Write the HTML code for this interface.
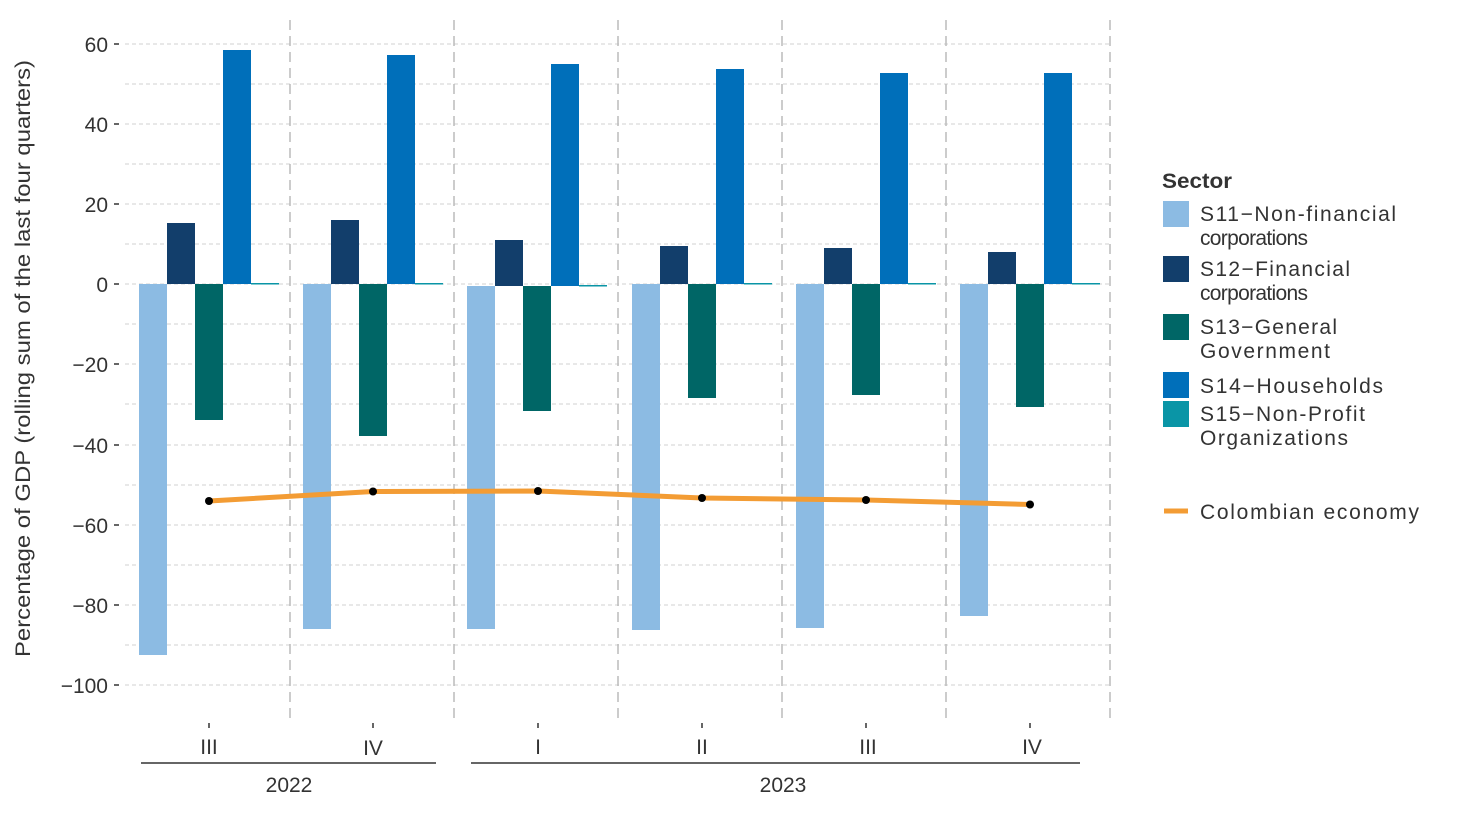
<!DOCTYPE html>
<html><head><style>body{margin:0;background:#fff}svg{display:block}text{font-family:"Liberation Sans",sans-serif;fill:#333}</style></head><body>
<svg width="1480" height="820" xmlns="http://www.w3.org/2000/svg">
<g stroke="#d0d0d0" stroke-width="1" stroke-dasharray="4,3">
<line x1="125" x2="1110" y1="44" y2="44"/><line x1="125" x2="1110" y1="84" y2="84"/><line x1="125" x2="1110" y1="124" y2="124"/><line x1="125" x2="1110" y1="164" y2="164"/><line x1="125" x2="1110" y1="204" y2="204"/><line x1="125" x2="1110" y1="244" y2="244"/><line x1="125" x2="1110" y1="284" y2="284"/><line x1="125" x2="1110" y1="324" y2="324"/><line x1="125" x2="1110" y1="364" y2="364"/><line x1="125" x2="1110" y1="404" y2="404"/><line x1="125" x2="1110" y1="445" y2="445"/><line x1="125" x2="1110" y1="485" y2="485"/><line x1="125" x2="1110" y1="525" y2="525"/><line x1="125" x2="1110" y1="565" y2="565"/><line x1="125" x2="1110" y1="605" y2="605"/><line x1="125" x2="1110" y1="645" y2="645"/><line x1="125" x2="1110" y1="685" y2="685"/>
</g>
<g stroke="#bbb" stroke-width="1.5" stroke-dasharray="10,6">
<line x1="290" x2="290" y1="20" y2="722"/><line x1="454" x2="454" y1="20" y2="722"/><line x1="618" x2="618" y1="20" y2="722"/><line x1="782" x2="782" y1="20" y2="722"/><line x1="946" x2="946" y1="20" y2="722"/><line x1="1110" x2="1110" y1="20" y2="722"/>
</g>
<g>
<rect x="139" y="284" width="28" height="371" fill="#8cbbe3"/><rect x="167" y="223" width="28" height="61" fill="#123e6b"/><rect x="195" y="284" width="28" height="136" fill="#006666"/><rect x="223" y="50" width="28" height="234" fill="#006fba"/><rect x="251" y="283" width="28" height="1.5" fill="#0a95a6"/>
<rect x="303" y="284" width="28" height="345" fill="#8cbbe3"/><rect x="331" y="220" width="28" height="64" fill="#123e6b"/><rect x="359" y="284" width="28" height="152" fill="#006666"/><rect x="387" y="55" width="28" height="229" fill="#006fba"/><rect x="415" y="283" width="28" height="1.5" fill="#0a95a6"/>
<rect x="467" y="286" width="28" height="343" fill="#8cbbe3"/><rect x="495" y="240" width="28" height="46" fill="#123e6b"/><rect x="523" y="286" width="28" height="125" fill="#006666"/><rect x="551" y="64" width="28" height="222" fill="#006fba"/><rect x="579" y="285" width="28" height="1.5" fill="#0a95a6"/>
<rect x="632" y="284" width="28" height="346" fill="#8cbbe3"/><rect x="660" y="246" width="28" height="38" fill="#123e6b"/><rect x="688" y="284" width="28" height="114" fill="#006666"/><rect x="716" y="69" width="28" height="215" fill="#006fba"/><rect x="744" y="283" width="28" height="1.5" fill="#0a95a6"/>
<rect x="796" y="284" width="28" height="344" fill="#8cbbe3"/><rect x="824" y="248" width="28" height="36" fill="#123e6b"/><rect x="852" y="284" width="28" height="111" fill="#006666"/><rect x="880" y="73" width="28" height="211" fill="#006fba"/><rect x="908" y="283" width="28" height="1.5" fill="#0a95a6"/>
<rect x="960" y="284" width="28" height="332" fill="#8cbbe3"/><rect x="988" y="252" width="28" height="32" fill="#123e6b"/><rect x="1016" y="284" width="28" height="123" fill="#006666"/><rect x="1044" y="73" width="28" height="211" fill="#006fba"/><rect x="1072" y="283" width="28" height="1.5" fill="#0a95a6"/>
</g>
<polyline points="209,501 373,491.5 538,491 702,498 866,500 1030,504.5" fill="none" stroke="#f39c34" stroke-width="5"/>
<g fill="#000"><circle cx="209" cy="501" r="4"/><circle cx="373" cy="491.5" r="4"/><circle cx="538" cy="491" r="4"/><circle cx="702" cy="498" r="4"/><circle cx="866" cy="500" r="4"/><circle cx="1030" cy="504.5" r="4"/></g>
<g stroke="#333" stroke-width="1.5">
<line x1="114" x2="119" y1="44" y2="44"/><line x1="114" x2="119" y1="124" y2="124"/><line x1="114" x2="119" y1="204" y2="204"/><line x1="114" x2="119" y1="284" y2="284"/><line x1="114" x2="119" y1="364" y2="364"/><line x1="114" x2="119" y1="445" y2="445"/><line x1="114" x2="119" y1="525" y2="525"/><line x1="114" x2="119" y1="605" y2="605"/><line x1="114" x2="119" y1="685" y2="685"/>
<line x1="209" x2="209" y1="723" y2="728"/><line x1="373" x2="373" y1="723" y2="728"/><line x1="538" x2="538" y1="723" y2="728"/><line x1="702" x2="702" y1="723" y2="728"/><line x1="866" x2="866" y1="723" y2="728"/><line x1="1030" x2="1030" y1="723" y2="728"/>
<line x1="141" x2="436" y1="763" y2="763"/><line x1="471" x2="1080" y1="763" y2="763"/>
</g>
<g font-size="21" text-anchor="end">
<text x="108" y="52">60</text><text x="108" y="132">40</text><text x="108" y="212">20</text><text x="108" y="292">0</text><text x="108" y="372">−20</text><text x="108" y="453">−40</text><text x="108" y="533">−60</text><text x="108" y="613">−80</text><text x="108" y="693">−100</text>
</g>
<g font-size="21" text-anchor="middle">
<text x="209" y="754">III</text><text x="373" y="755">IV</text><text x="538" y="754">I</text><text x="702" y="754">II</text><text x="868" y="754">III</text><text x="1032" y="754">IV</text>
<text x="289" y="792">2022</text><text x="783" y="792">2023</text>
</g>
<text font-size="21" textLength="597" lengthAdjust="spacingAndGlyphs" transform="translate(30,657) rotate(-90)">Percentage of GDP (rolling sum of the last four quarters)</text>
<text x="1162" y="188" font-size="21" font-weight="bold" textLength="70" lengthAdjust="spacingAndGlyphs">Sector</text>
<rect x="1163" y="201" width="26" height="26" fill="#8cbbe3"/>
<rect x="1163" y="256" width="26" height="26" fill="#123e6b"/>
<rect x="1163" y="314" width="26" height="26" fill="#006666"/>
<rect x="1163" y="372" width="26" height="26" fill="#006fba"/>
<rect x="1163" y="401" width="26" height="26" fill="#0a95a6"/>
<g font-size="21" lengthAdjust="spacingAndGlyphs">
<text x="1200" y="221" textLength="196">S11−Non-financial</text><text x="1200" y="245" textLength="108">corporations</text>
<text x="1200" y="276" textLength="150">S12−Financial</text><text x="1200" y="300" textLength="108">corporations</text>
<text x="1200" y="334" textLength="137">S13−General</text><text x="1200" y="358" textLength="130">Government</text>
<text x="1200" y="393" textLength="183">S14−Households</text>
<text x="1200" y="421" textLength="165">S15−Non-Profit</text><text x="1200" y="445" textLength="148">Organizations</text>
<text x="1200" y="519" textLength="219">Colombian economy</text>
</g>
<line x1="1164" x2="1188" y1="511" y2="511" stroke="#f39c34" stroke-width="5"/>
</svg>
</body></html>
